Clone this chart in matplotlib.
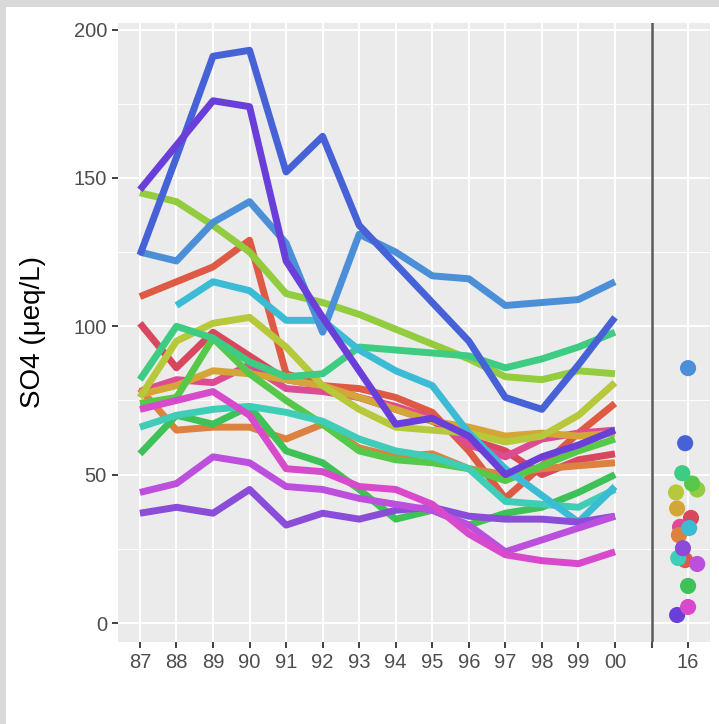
import matplotlib
matplotlib.use("Agg")
import matplotlib.pyplot as plt
from matplotlib.patches import Rectangle

plt.rcParams['font.family'] = ['Liberation Sans', 'DejaVu Sans']

# sampling years, then a gap column and the 2016 survey column
years = ['87', '88', '89', '90', '91', '92', '93', '94', '95', '96', '97', '98', '99', '00']
tick_labels = years + ['', '16']

# SO4 per lake, 1987-2000 (None = not sampled)
royal_blue = [124, 157, 191, 193, 152, 164, 134, 121, 108, 95, 76, 72, 87, 103]
steel_blue = [125, 122, 135, 142, 128, 98, 131, 125, 117, 116, 107, 108, 109, 115]
violet = [146, 161, 176, 174, 122, 103, 85, 67, 69, 63, 50, 56, 60, 65]
salmon = [110, 115, 120, 129, 84, 80, 79, 76, 71, 58, 42, 53, 64, 74]
crimson = [101, 86, 98, 90, 82, 80, 76, 72, 68, 62, 58, 50, 55, 57]
pink = [78, 82, 81, 87, 79, 78, 76, 73, 69, 60, 56, 62, 64, 65]
orange = [79, 65, 66, 66, 62, 67, 59, 56, 57, 52, 50, 52, 53, 54]
gold = [77, 80, 85, 84, 82, 80, 76, 72, 68, 66, 63, 64, 63, 64]
yellowgreen = [76, 95, 101, 103, 93, 80, 72, 66, 65, 64, 61, 63, 70, 81]
lime = [145, 142, 134, 125, 111, 108, 104, 99, 94, 89, 83, 82, 85, 84]
teal_green = [82, 100, 96, 88, 83, 84, 93, 92, 91, 90, 86, 89, 93, 98]
green_a = [57, 70, 67, 73, 58, 54, 45, 35, 38, 33, 37, 39, 44, 50]
green_b = [74, 76, 96, 84, 75, 67, 58, 55, 54, 52, 48, 53, 58, 62]
cyan = [None, 107, 115, 112, 102, 102, 92, 85, 80, 64, 52, 43, 34, 46]
turquoise = [66, 70, 72, 73, 71, 68, 62, 58, 56, 52, 41, 40, 39, 45]
orchid = [44, 47, 56, 54, 46, 45, 42, 40, 38, 33, 24, 28, 32, 36]
magenta = [72, 75, 78, 70, 52, 51, 46, 45, 40, 30, 23, 21, 20, 24]
purple = [37, 39, 37, 45, 33, 37, 35, 38, 39, 36, 35, 35, 34, 36]

series = [salmon, crimson, pink, orange, gold, yellowgreen, lime, green_b, green_a,
          teal_green, turquoise, cyan, steel_blue, royal_blue, violet, purple,
          orchid, magenta]
colors = ['#DE5A44', '#D9475E', '#DD4C93', '#DC8140', '#D4A537', '#B7C83A', '#93CC3E',
          '#58C84A', '#3EC157', '#3DCC82', '#3FCDB8', '#3CBCD4', '#4A8FD8', '#4662D6',
          '#6A3FD9', '#8A4CD9', '#BD4FDD', '#D84ACB']

# 2016 values, one per lake (same order as series), with the jitter used
so4_2016 = [21.2, 35.4, 32.4, 29.6, 38.6, 44, 45, 47, 12.5,
            50.5, 21.9, 32, 85.9, 60.6, 2.7, 25.2, 19.9, 5.4]
jitter_2016 = [-0.08, 0.08, -0.22, -0.25, -0.30, -0.33, 0.25, 0.11, 0.0,
               -0.16, -0.27, 0.03, 0.0, -0.08, -0.30, -0.14, 0.25, 0.0]

W, H = 719, 724
fig = plt.figure(figsize=(W / 100, H / 100), dpi=100)
fig.patch.set_facecolor('white')
fig.patches.append(Rectangle((0, 1 - 7 / H), 1, 7 / H, transform=fig.transFigure,
                             facecolor='#d9d9d9', edgecolor='none'))
fig.patches.append(Rectangle((0, 0), 6 / W, 1, transform=fig.transFigure,
                             facecolor='#d9d9d9', edgecolor='none'))

ax = fig.add_axes([118 / W, 1 - 642 / H, (710 - 118) / W, (642 - 23) / H])
ax.set_facecolor('#EBEBEB')
for s in ax.spines.values():
    s.set_visible(False)

ax.set_xlim(-0.6, 15.6)
ax.set_ylim(-6.4, 202.2)

# grid
for v in [25, 75, 125, 175]:
    ax.axhline(v, color='white', lw=0.7, zorder=0.5)
for v in [0, 50, 100, 150, 200]:
    ax.axhline(v, color='white', lw=1.4, zorder=0.6)
for i in range(16):
    ax.axvline(i, color='white', lw=1.4, zorder=0.6)

xs = list(range(len(years)))
for ys, c in zip(series, colors):
    pts = [(x, y) for x, y in zip(xs, ys) if y is not None]
    ax.plot([p[0] for p in pts], [p[1] for p in pts], color=c, lw=5,
            solid_joinstyle='round', solid_capstyle='butt', zorder=2)

ax.axvline(14, color='#5a5a5a', lw=1.8, zorder=3)

ax.scatter([15 + j for j in jitter_2016], so4_2016, s=135, c=colors,
           edgecolors='none', zorder=4)

ax.set_xticks(range(16))
ax.set_xticklabels(tick_labels)
ax.set_yticks([0, 50, 100, 150, 200])
ax.tick_params(axis='both', colors='#333333', length=4, width=1.3,
               labelsize=14.5, labelcolor='#4d4d4d', pad=4)

fig.text(33 / W, 1 - 332 / H, 'SO4 (\u03bceq/L)', rotation=90, ha='center',
         va='center', fontsize=20)

fig.savefig('out.png', dpi=100)
